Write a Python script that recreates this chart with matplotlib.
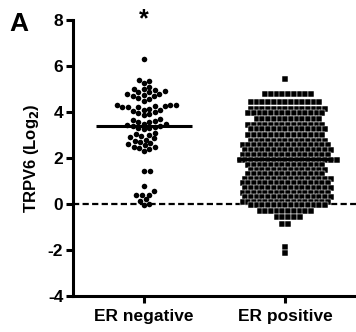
import numpy as np
import matplotlib
matplotlib.use('Agg')
import matplotlib.pyplot as plt

plt.rcParams['font.family'] = 'Liberation Sans'
plt.rcParams['font.weight'] = 'bold'
plt.rcParams['axes.unicode_minus'] = False

groups = ['ER negative', 'ER positive']

# ER negative: individual values (log2)
er_neg = [6.3,
          5.4, 5.35, 5.25, 5.1, 5.0, 5.0, 4.95, 4.9, 4.85, 4.85, 4.8, 4.8,
          4.75, 4.7, 4.7, 4.6, 4.55, 4.5,
          4.3, 4.3, 4.3, 4.25, 4.25, 4.2, 4.2, 4.2, 4.15, 4.1, 4.1, 4.05,
          4.0, 3.95, 3.9, 3.85,
          3.7, 3.65, 3.6, 3.55, 3.55, 3.5, 3.5, 3.45, 3.4, 3.4, 3.35, 3.3,
          3.3, 3.25,
          3.1, 3.05, 3.0, 2.95, 2.9, 2.85, 2.8, 2.75, 2.7, 2.65, 2.6, 2.55,
          2.5, 2.5, 2.45, 2.4, 2.3,
          1.45, 1.45, 0.8, 0.55, 0.4, 0.4, 0.4, 0.2, 0.15, 0.0, -0.05]

# ER positive: value rows and how many squares sit in each row
pos_levels = [5.45, 4.8, 4.45, 4.15, 3.95, 3.7, 3.45, 3.25, 3.0, 2.75,
              2.55, 2.35, 2.15, 1.9, 1.7, 1.5, 1.3, 1.1, 0.9, 0.7,
              0.5, 0.3, 0.1, -0.05, -0.3, -0.55, -0.85, -1.85, -2.15]
pos_counts = [1, 9, 13, 14, 14, 12, 14, 14, 14, 14,
              16, 16, 16, 18, 14, 14, 14, 16, 16, 16,
              16, 16, 16, 14, 10, 5, 2, 1, 1]
er_pos = np.repeat(pos_levels, pos_counts)

W, H = 356, 332
fig = plt.figure(figsize=(W / 100, H / 100), dpi=100)
ax = fig.add_axes([73 / W, 36 / H, 283 / W, 276 / H])
ax.set_xlim(-0.5, 1.5)
ax.set_ylim(-4, 8)

# pixel scales, used to lay points out side by side
px_x = 283 / 2.0
px_y = 276 / 12.0


def swarm(vals, d=5.6):
    placed = []
    xs = []
    for v in vals:
        y = v * px_y
        steps = [0.0]
        for k in range(1, 200):
            steps += [k * 0.5, -k * 0.5]
        for off in steps:
            ok = True
            for (qx, qy) in placed:
                if (qx - off) ** 2 + (qy - y) ** 2 < d * d:
                    ok = False
                    break
            if ok:
                break
        placed.append((off, y))
        xs.append(off / px_x)
    return np.array(xs)


def rows(vals, spacing=5.7):
    vals = np.asarray(vals)
    xs = np.zeros(len(vals))
    for j, lv in enumerate(np.unique(vals)):
        idx = np.where(vals == lv)[0]
        n = len(idx)
        shift = 0.5 * spacing if (j % 2 and n > 2) else 0.0
        xs[idx] = ((np.arange(n) - (n - 1) / 2) * spacing + shift) / px_x
    return xs


neg_sorted = np.sort(np.array(er_neg))
ax.scatter(0 + swarm(neg_sorted), neg_sorted, s=16, marker='o',
           color='black', linewidths=0, zorder=4)
ax.scatter(1 + rows(er_pos), er_pos, s=17, marker='s',
           facecolor='black', edgecolors='white', linewidths=0.35, zorder=4)

for i, vals in enumerate([er_neg, er_pos]):
    m = np.mean(vals)
    ax.hlines(m, i - 0.34, i + 0.34, color='black', lw=2.2, zorder=5)

ax.axhline(0, color='black', lw=1.6, ls=(0, (2.8, 1.5)), zorder=1)

ax.text(0, 8.05, '*', ha='center', va='center', fontsize=18,
        fontweight='bold', clip_on=False)

ax.set_xticks([0, 1])
ax.set_xticklabels(groups, fontsize=12.5, fontweight='bold')
ax.set_yticks([-4, -2, 0, 2, 4, 6, 8])
ax.set_yticklabels(['-4', '-2', '0', '2', '4', '6', '8'], fontsize=12.5,
                   fontweight='bold')
ax.tick_params(axis='y', length=5, width=2.2, pad=2)
ax.tick_params(axis='x', length=5, width=2.2, pad=4)
ax.set_ylabel('TRPV6 (Log$_\\mathbf{2}$)', fontsize=12, fontweight='bold',
              labelpad=5)

for side in ['top', 'right']:
    ax.spines[side].set_visible(False)
for side in ['left', 'bottom']:
    ax.spines[side].set_linewidth(2.2)

fig.text(19 / W, 1 - 24 / H, 'A', fontsize=19, fontweight='bold',
         ha='center', va='center')

fig.savefig('out.png', dpi=100)
